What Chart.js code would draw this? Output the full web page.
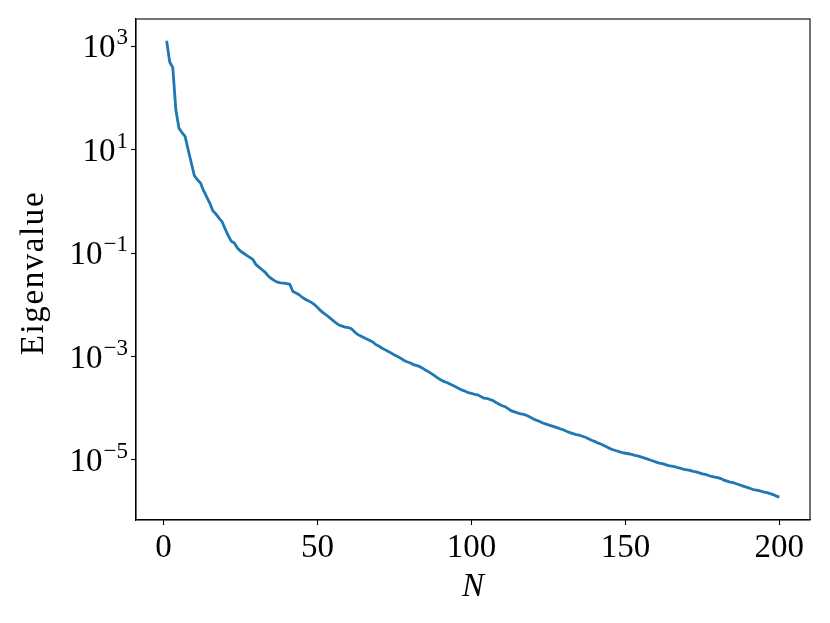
<!DOCTYPE html>
<html>
<head>
<meta charset="utf-8">
<script src="https://cdn.jsdelivr.net/npm/chart.js@4.4.1/dist/chart.umd.min.js"></script>
<style>
html, body { margin: 0; padding: 0; background: #fff; }
canvas { display: block; }
</style>
</head>
<body>
<canvas id="grafico" width="830" height="623"></canvas>
<script>
// Autovalores (N = 1..200)
const autovalores = [
    1290, 500, 389, 58.9, 26.3, 21.4, 18.2, 10.0, 5.62, 3.16,
    2.63, 2.29, 1.62, 1.23, 0.933, 0.661, 0.575, 0.479, 0.407, 0.295,
    0.219, 0.170, 0.158, 0.126, 0.110, 0.100, 0.0912, 0.0832, 0.0759, 0.0603,
    0.0537, 0.0479, 0.0427, 0.0363, 0.0324, 0.0295, 0.0275, 0.0266, 0.0263, 0.0257,
    0.0251, 0.0182, 0.0170, 0.0158, 0.0141, 0.0129, 0.0120, 0.0112, 0.0102, 0.00891,
    0.00776, 0.00692, 0.00631, 0.00562, 0.00501, 0.00447, 0.00407, 0.00389, 0.00372, 0.00363,
    0.00347, 0.00302, 0.00269, 0.00251, 0.00234, 0.00219, 0.00204, 0.00191, 0.00170, 0.00158,
    0.00145, 0.00135, 0.00126, 0.00117, 0.00107, 1.00e-3, 9.33e-4, 8.51e-4, 7.94e-4, 7.59e-4,
    7.08e-4, 6.76e-4, 6.46e-4, 6.03e-4, 5.50e-4, 5.13e-4, 4.68e-4, 4.27e-4, 3.89e-4, 3.55e-4,
    3.31e-4, 3.16e-4, 2.95e-4, 2.75e-4, 2.57e-4, 2.40e-4, 2.24e-4, 2.14e-4, 2.00e-4, 1.95e-4,
    1.86e-4, 1.82e-4, 1.70e-4, 1.58e-4, 1.55e-4, 1.48e-4, 1.41e-4, 1.29e-4, 1.20e-4, 1.12e-4,
    1.07e-4, 9.77e-5, 8.91e-5, 8.51e-5, 8.13e-5, 7.76e-5, 7.59e-5, 7.24e-5, 6.76e-5, 6.31e-5,
    5.89e-5, 5.62e-5, 5.25e-5, 5.01e-5, 4.79e-5, 4.57e-5, 4.37e-5, 4.17e-5, 3.98e-5, 3.80e-5,
    3.55e-5, 3.39e-5, 3.24e-5, 3.09e-5, 3.02e-5, 2.88e-5, 2.75e-5, 2.57e-5, 2.40e-5, 2.29e-5,
    2.14e-5, 2.04e-5, 1.91e-5, 1.78e-5, 1.66e-5, 1.58e-5, 1.51e-5, 1.45e-5, 1.38e-5, 1.35e-5,
    1.32e-5, 1.29e-5, 1.23e-5, 1.20e-5, 1.15e-5, 1.10e-5, 1.05e-5, 1.00e-5, 9.55e-6, 9.12e-6,
    8.71e-6, 8.51e-6, 8.13e-6, 7.76e-6, 7.59e-6, 7.41e-6, 7.08e-6, 6.92e-6, 6.61e-6, 6.46e-6,
    6.31e-6, 6.03e-6, 5.89e-6, 5.62e-6, 5.37e-6, 5.25e-6, 5.01e-6, 4.79e-6, 4.68e-6, 4.57e-6,
    4.37e-6, 4.07e-6, 3.89e-6, 3.72e-6, 3.63e-6, 3.47e-6, 3.31e-6, 3.16e-6, 3.02e-6, 2.88e-6,
    2.75e-6, 2.63e-6, 2.57e-6, 2.51e-6, 2.40e-6, 2.34e-6, 2.24e-6, 2.14e-6, 2.00e-6, 1.91e-6
];
const indicesN = autovalores.map((_, i) => i + 1);

const xTicks = [0, 50, 100, 150, 200];
const yTicks = [1e3, 1e1, 1e-1, 1e-3, 1e-5];
const yExpoentes = [3, 1, -1, -3, -5];
const xLimites = [-8.95, 209.95];
const yLimites = [6.9e-7, 3.4e3];
const rotuloX = 'N';
const rotuloY = 'Eigenvalue';

const FAMILIA = '"Liberation Serif", "DejaVu Serif", serif';
const FONTE = '33px ' + FAMILIA;
const FONTE_SUP = '23px ' + FAMILIA;

// Moldura, rótulos dos ticks (com expoente) e títulos dos eixos
const pluginTextos = {
    id: 'textos',
    afterDraw(chart) {
        const ctx = chart.ctx;
        const a = chart.chartArea;
        const sx = chart.scales.x;
        const sy = chart.scales.y;
        ctx.save();
        ctx.strokeStyle = '#000';
        ctx.lineWidth = 1.1;
        ctx.strokeRect(a.left, a.top, a.right - a.left, a.bottom - a.top);

        ctx.fillStyle = '#000';
        ctx.font = FONTE;
        ctx.textAlign = 'center';
        ctx.textBaseline = 'alphabetic';
        xTicks.forEach(v => ctx.fillText(String(v), sx.getPixelForValue(v), 557));

        yTicks.forEach((v, i) => {
            const y = sy.getPixelForValue(v);
            const base = y + 11;
            const e = yExpoentes[i];
            const txtExp = e < 0 ? '\u2212' + Math.abs(e) : String(e);
            ctx.font = FONTE_SUP;
            const wExp = ctx.measureText(txtExp).width;
            ctx.font = FONTE;
            const wBase = ctx.measureText('10').width;
            const direita = 128;
            ctx.textAlign = 'left';
            ctx.fillText('10', direita - wExp - wBase - 1, base);
            ctx.font = FONTE_SUP;
            ctx.fillText(txtExp, direita - wExp, base - 13);
        });

        ctx.font = 'italic ' + FONTE;
        ctx.textAlign = 'center';
        ctx.fillText(rotuloX, (a.left + a.right) / 2, 596);

        // título do eixo y, um pouco espaçado para imitar a largura da fonte do LaTeX
        ctx.translate(43, 273);
        ctx.rotate(-Math.PI / 2);
        ctx.font = FONTE;
        ctx.letterSpacing = '1.6px';
        ctx.fillText(rotuloY, 0, 0);
        ctx.restore();
    }
};

const grade = {
    display: true,
    drawOnChartArea: false,
    drawTicks: true,
    tickLength: 5,
    color: '#000',
    tickColor: '#000',
    tickWidth: 1.1
};

new Chart(document.getElementById('grafico'), {
    type: 'line',
    data: {
        datasets: [{
            data: indicesN.map((n, i) => ({ x: n, y: autovalores[i] })),
            borderColor: '#1f77b4',
            borderWidth: 2.8,
            pointRadius: 0,
            fill: false,
            tension: 0
        }]
    },
    options: {
        responsive: false,
        animation: false,
        devicePixelRatio: 1,
        layout: { padding: { top: 19, right: 20, left: 0, bottom: 0 } },
        plugins: { legend: { display: false }, tooltip: { enabled: false } },
        scales: {
            x: {
                type: 'linear',
                min: xLimites[0],
                max: xLimites[1],
                grid: grade,
                border: { display: true, color: '#000', width: 1.1 },
                ticks: { display: false },
                afterBuildTicks: s => { s.ticks = xTicks.map(v => ({ value: v })); },
                afterFit: s => { s.height = 103; }
            },
            y: {
                type: 'logarithmic',
                min: yLimites[0],
                max: yLimites[1],
                grid: grade,
                border: { display: true, color: '#000', width: 1.1 },
                ticks: { display: false },
                afterBuildTicks: s => { s.ticks = yTicks.map(v => ({ value: v })); },
                afterFit: s => { s.width = 136; }
            }
        }
    },
    plugins: [pluginTextos]
});
</script>
</body>
</html>
